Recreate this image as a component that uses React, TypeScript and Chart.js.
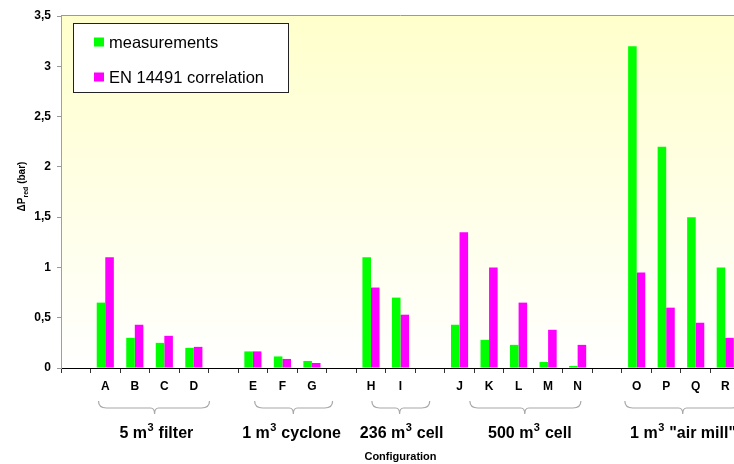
import { useEffect, useRef } from "react";
import { Chart, registerables } from "chart.js";

Chart.register(...registerables);

// ---- data ----
const categories = ["", "A", "B", "C", "D", "", "E", "F", "G", "", "H", "I", "", "J", "K", "L", "M", "N", "", "O", "P", "Q", "R"];
const measurements = [null, 0.65, 0.3, 0.25, 0.2, null, 0.165, 0.115, 0.07, null, 1.1, 0.7, null, 0.43, 0.28, 0.23, 0.06, 0.02, null, 3.2, 2.2, 1.5, 1.0];
const correlation = [null, 1.1, 0.43, 0.32, 0.21, null, 0.165, 0.09, 0.05, null, 0.8, 0.53, null, 1.35, 1.0, 0.65, 0.38, 0.23, null, 0.95, 0.6, 0.45, 0.3];
const seriesNames = ["measurements", "EN 14491 correlation"];
const seriesColors = ["#00FF00", "#FF00FF"];

const groupLabels = ["5 m³ filter", "1 m³ cyclone", "236 m³ cell", "500 m³ cell", "1 m³ \"air mill\""];
// brace extents in category-axis units
const braceFrom = [0.77, 6.06, 10.03, 13.35, 18.6];
const braceTo = [4.53, 8.7, 11.99, 17.11, 22.5];
const braceTip = [2.67, 7.37, 10.97, 15.21, 20.56];
const labelAt = [2.73, 7.31, 11.04, 15.38, 20.57];

const xTitle = "Configuration";
const yTitleMain = "ΔP";
const yTitleSub = "red";
const yTitleUnit = " (bar)";

const FF = "'Liberation Sans', Arial, sans-serif";

function drawBrace(ctx: CanvasRenderingContext2D, x1: number, x2: number, xm: number, y: number) {
  const h = 7, r = 8, tip = 6;
  ctx.beginPath();
  ctx.moveTo(x1, y);
  ctx.quadraticCurveTo(x1, y + h, x1 + r, y + h);
  ctx.lineTo(xm - 4, y + h);
  ctx.quadraticCurveTo(xm, y + h, xm, y + h + tip);
  ctx.quadraticCurveTo(xm, y + h, xm + 4, y + h);
  ctx.lineTo(x2 - r, y + h);
  ctx.quadraticCurveTo(x2, y + h, x2, y);
  ctx.stroke();
}

const decorPlugin = {
  id: "decor",
  beforeDraw(chart: any) {
    const { ctx, chartArea } = chart;
    const { left, right, top, bottom } = chartArea;
    ctx.save();
    const g = ctx.createLinearGradient(0, top, 0, bottom);
    g.addColorStop(0, "#FFFFCC");
    g.addColorStop(1, "#FFFFFF");
    ctx.fillStyle = g;
    ctx.fillRect(left, top, right - left, bottom - top);
    ctx.strokeStyle = "#9a9a9a";
    ctx.lineWidth = 1;
    ctx.beginPath();
    ctx.moveTo(left, top - 0.5);
    ctx.lineTo(right, top - 0.5);
    ctx.stroke();
    ctx.restore();
  },
  afterDraw(chart: any) {
    const { ctx } = chart;
    const xs = chart.scales.x;
    ctx.save();

    // legend
    ctx.fillStyle = "#FFFFFF";
    ctx.fillRect(73, 23, 216, 70);
    ctx.strokeStyle = "#222";
    ctx.lineWidth = 1;
    ctx.strokeRect(73.5, 23.5, 215, 69);
    const ly = [42, 77];
    ctx.font = `16.5px ${FF}`;
    ctx.textBaseline = "middle";
    ctx.textAlign = "left";
    seriesNames.forEach((name, i) => {
      ctx.fillStyle = seriesColors[i];
      ctx.fillRect(94, ly[i] - 4.5, 10, 9);
      ctx.fillStyle = "#000";
      ctx.fillText(name, 109, ly[i] + 1);
    });

    // braces
    ctx.strokeStyle = "#a8a8a8";
    ctx.lineWidth = 1.2;
    groupLabels.forEach((_, i) => {
      drawBrace(ctx, xs.getPixelForValue(braceFrom[i]), xs.getPixelForValue(braceTo[i]), xs.getPixelForValue(braceTip[i]), 401);
    });

    // group labels with superscript
    ctx.fillStyle = "#000";
    ctx.textBaseline = "alphabetic";
    const mainFont = `bold 16px ${FF}`;
    const supFont = `bold 11px ${FF}`;
    groupLabels.forEach((lab, i) => {
      const [a, b] = lab.split("³");
      ctx.font = mainFont;
      const wa = ctx.measureText(a).width;
      const wb = ctx.measureText(b).width;
      ctx.font = supFont;
      const ws = ctx.measureText("3").width + 1;
      const total = wa + ws + wb;
      let x = xs.getPixelForValue(labelAt[i]) - total / 2;
      ctx.textAlign = "left";
      ctx.font = mainFont;
      ctx.fillText(a, x, 438);
      x += wa + 0.5;
      ctx.font = supFont;
      ctx.fillText("3", x, 431);
      x += ws - 0.5;
      ctx.font = mainFont;
      ctx.fillText(b, x, 438);
    });

    // y title rotated
    ctx.translate(25, 186.5);
    ctx.rotate(-Math.PI / 2);
    const tf = `bold 10px ${FF}`;
    const sf = `bold 7px ${FF}`;
    ctx.font = tf;
    const w1 = ctx.measureText(yTitleMain).width;
    const w3 = ctx.measureText(yTitleUnit).width;
    ctx.font = sf;
    const w2 = ctx.measureText(yTitleSub).width;
    let tx = -(w1 + w2 + w3) / 2;
    ctx.textAlign = "left";
    ctx.font = tf;
    ctx.fillText(yTitleMain, tx, 0);
    tx += w1;
    ctx.font = sf;
    ctx.fillText(yTitleSub, tx, 3);
    tx += w2;
    ctx.font = tf;
    ctx.fillText(yTitleUnit, tx, 0);
    ctx.restore();
  },
};

export default function App() {
  const ref = useRef<HTMLCanvasElement | null>(null);
  useEffect(() => {
    if (!ref.current) return;
    const chart = new Chart(ref.current, {
      type: "bar",
      data: {
        labels: categories,
        datasets: [
          { label: seriesNames[0], data: measurements as any, backgroundColor: seriesColors[0], borderWidth: 0 },
          { label: seriesNames[1], data: correlation as any, backgroundColor: seriesColors[1], borderWidth: 0 },
        ],
      },
      options: {
        animation: false,
        responsive: false,
        maintainAspectRatio: false,
        layout: { padding: { top: 16, left: 0, right: 0, bottom: 0 } },
        datasets: { bar: { categoryPercentage: 0.58, barPercentage: 1.0 } } as any,
        plugins: { legend: { display: false }, tooltip: { enabled: false } },
        scales: {
          x: {
            offset: true,
            grid: { offset: true, drawOnChartArea: false, drawTicks: true, tickLength: 5, color: "#333" },
            border: { color: "#000", width: 1 },
            ticks: { color: "#000", font: { family: FF, size: 12, weight: "bold" }, padding: 6, autoSkip: false, maxRotation: 0 },
            title: { display: true, text: xTitle, color: "#000", font: { family: FF, size: 11, weight: "bold" }, padding: { top: 0, bottom: 0 } },
            afterFit: (s: any) => { s.height = 96; },
          },
          y: {
            min: 0,
            max: 3.5,
            grid: { drawOnChartArea: false, tickLength: 4, color: "#999" },
            border: { color: "#a0a0a0", width: 1 },
            ticks: {
              stepSize: 0.5,
              color: "#000",
              padding: 6,
              font: { family: FF, size: 12, weight: "bold" },
              callback: (v: any) => String(v).replace(".", ","),
            },
            afterFit: (s: any) => { s.width = 61; },
          },
        },
      },
      plugins: [decorPlugin],
    });
    return () => chart.destroy();
  }, []);
  return (
    <div style={{ position: "fixed", left: 0, top: 0, width: 734, height: 464, overflow: "hidden", background: "#fff" }}>
      <canvas ref={ref} width={740} height={464} style={{ display: "block", width: 740, height: 464 }} />
    </div>
  );
}
